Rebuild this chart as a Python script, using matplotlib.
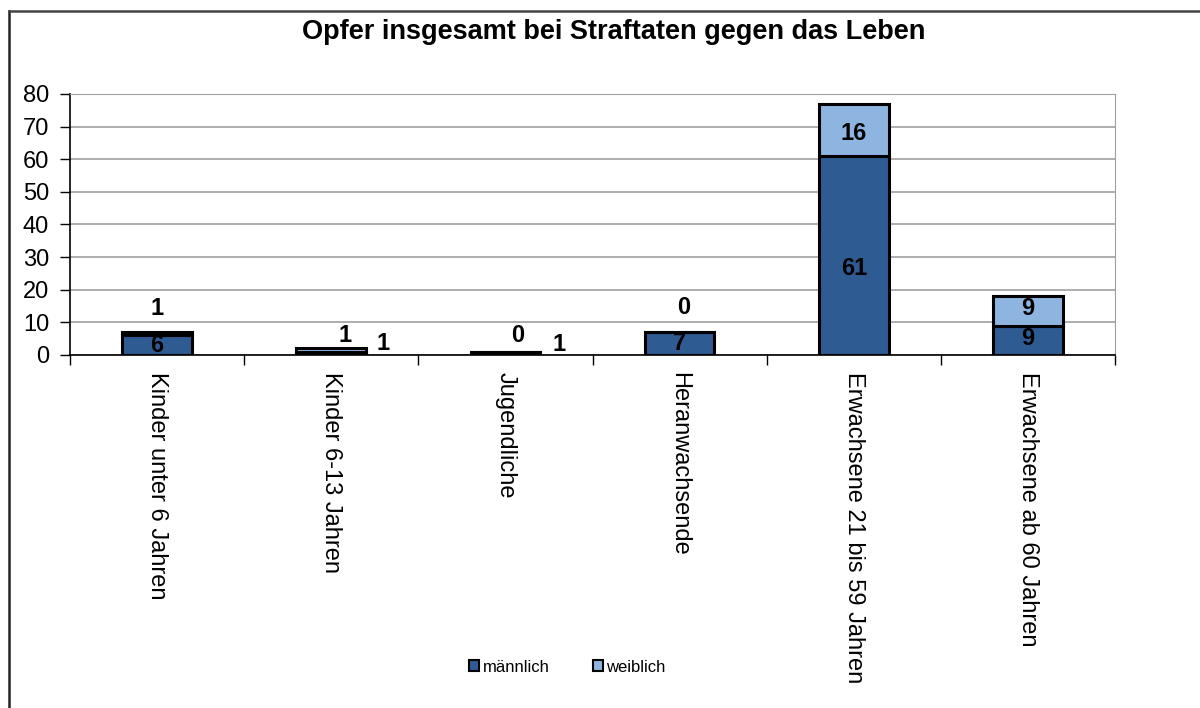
import matplotlib
matplotlib.use("Agg")
import matplotlib.pyplot as plt
from matplotlib.patches import Patch
from matplotlib.lines import Line2D
import numpy as np

plt.rcParams['font.family'] = ['Liberation Sans', 'DejaVu Sans']

title = "Opfer insgesamt bei Straftaten gegen das Leben"
categories = ["Kinder unter 6 Jahren", "Kinder 6-13 Jahren", "Jugendliche",
              "Heranwachsende", "Erwachsene 21 bis 59 Jahren", "Erwachsene ab 60 Jahren"]
maennlich = [6, 1, 1, 7, 61, 9]
weiblich = [1, 1, 0, 0, 16, 9]
series_names = ["männlich", "weiblich"]
yticks = [0, 10, 20, 30, 40, 50, 60, 70, 80]

# label placement (offset in pixels from anchor; anchor: 'mid' = segment centre, 'top' = segment top)
m_label_place = [('mid', 0, 0), ('top', 52, 8), ('top', 54, 7), ('mid', 0, 0), ('mid', 0, -13), ('mid', 0, 2)]
w_label_place = [('top', 0, 24), ('top', 14, 13), ('top', 12, 16), ('top', 4, 25), ('mid', 0, -4), ('mid', 0, 2)]

W, H = 1200, 708
fig = plt.figure(figsize=(W / 100, H / 100), dpi=100)
ax = fig.add_axes([70 / W, 1 - 355 / H, (1115 - 70) / W, (355 - 94) / H])

dark = '#2F5B93'
light = '#8EB4E0'
x = np.arange(len(categories))
bw = 0.4
ax.bar(x, maennlich, bw, color=dark, edgecolor='black', linewidth=2.2, zorder=3)
ax.bar(x, weiblich, bw, bottom=maennlich, color=light, edgecolor='black', linewidth=2.2, zorder=3)

for i in range(len(categories)):
    m, w = maennlich[i], weiblich[i]
    kind, dx, dy = m_label_place[i]
    yy = m / 2 if kind == 'mid' else m
    ax.annotate(str(m), (x[i], yy), xytext=(dx, dy), textcoords='offset pixels',
                ha='center', va='center', fontsize=17, fontweight='bold', zorder=5)
    kind, dx, dy = w_label_place[i]
    yy = m + w / 2 if kind == 'mid' else m + w
    ax.annotate(str(w), (x[i], yy), xytext=(dx, dy), textcoords='offset pixels',
                ha='center', va='center', fontsize=17, fontweight='bold', zorder=5)

ax.set_xlim(-0.5, len(categories) - 0.5)
ax.set_ylim(0, 80)
ax.set_yticks(yticks)
ax.set_yticklabels([str(v) for v in yticks], fontsize=17)
ax.yaxis.grid(True, color='#A0A0A0', linewidth=1.2, zorder=0)
ax.set_axisbelow(True)

ax.set_xticks(x)
ax.set_xticklabels(categories, rotation=270, fontsize=17, va='top', ha='center')
ax.tick_params(axis='x', length=0, pad=12)
ax.set_xticks(np.arange(len(categories) + 1) - 0.5, minor=True)
ax.tick_params(axis='x', which='minor', length=7, width=1, direction='out', color='black')
ax.tick_params(axis='y', length=7, width=1, direction='out', pad=8)

ax.spines['left'].set_color('black')
ax.spines['bottom'].set_color('black')
ax.spines['left'].set_linewidth(1.2)
ax.spines['bottom'].set_linewidth(1.2)
ax.spines['top'].set_color('#A0A0A0')
ax.spines['right'].set_color('#A0A0A0')

fig.text(614 / W, 1 - 32 / H, title, ha='center', va='center', fontsize=19.5, fontweight='bold')

handles = [Patch(facecolor=dark, edgecolor='black', linewidth=1.5),
           Patch(facecolor=light, edgecolor='black', linewidth=1.5)]
fig.legend(handles, series_names, loc='center', bbox_to_anchor=(0.473, 1 - 667 / H), ncol=2,
           frameon=False, fontsize=12, handlelength=0.6, handleheight=0.6, handletextpad=0.2,
           columnspacing=2.6)

# outer frame
fig.add_artist(Line2D([9 / W, 9 / W], [0, 1 - 11 / H], color='#222222', linewidth=1.8))
fig.add_artist(Line2D([9 / W, 1], [1 - 11 / H, 1 - 11 / H], color='#444444', linewidth=1.8))

fig.savefig("out.png", dpi=100, facecolor='white')
